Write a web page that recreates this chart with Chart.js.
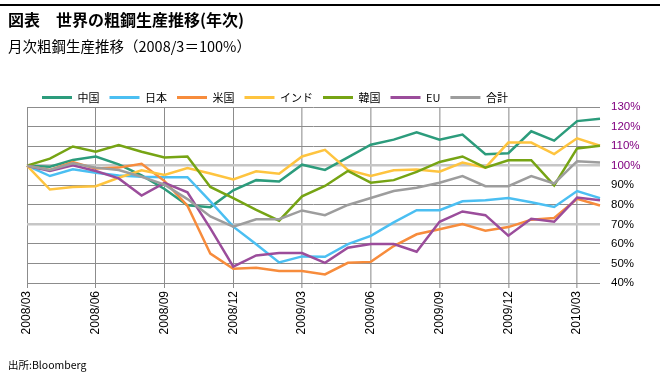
<!DOCTYPE html>
<html>
<head>
<meta charset="utf-8">
<script src="https://cdn.jsdelivr.net/npm/chart.js@4/dist/chart.umd.min.js"></script>
<style>
  html, body { margin: 0; padding: 0; background: #fff; }
  #wrap { position: relative; width: 660px; height: 377px; overflow: hidden; }
  #topline { position: absolute; left: 0; top: 4px; width: 660px; height: 2px; background: #000; }
  #title { position: absolute; left: 8px; top: 9px; font: bold 16px "Noto Sans CJK JP", sans-serif; color: #000; white-space: nowrap; line-height: 20px; }
  #subtitle { position: absolute; left: 8px; top: 36px; font: 14.5px "Noto Sans CJK JP", sans-serif; color: #000; white-space: nowrap; line-height: 20px; }
  #source { position: absolute; left: 8px; top: 358px; font: 10.5px "Noto Sans CJK JP", sans-serif; color: #000; white-space: nowrap; line-height: 14px; }
  canvas { position: absolute; left: 0; top: 0; }
</style>
</head>
<body>
<div id="wrap">
  <div id="topline"></div>
  <canvas id="c" width="660" height="377"></canvas>
  <div id="title">図表　世界の粗鋼生産推移(年次)</div>
  <div id="subtitle">月次粗鋼生産推移（2008/3＝100%）</div>
  <div id="source">出所:Bloomberg</div>
</div>
<script>
const months = ['2008/03','2008/04','2008/05','2008/06','2008/07','2008/08','2008/09','2008/10','2008/11','2008/12',
  '2009/01','2009/02','2009/03','2009/04','2009/05','2009/06','2009/07','2009/08','2009/09','2009/10','2009/11','2009/12',
  '2010/01','2010/02','2010/03','2010/04'];
const seriesNames = ['中国','日本','米国','インド','韓国','EU','合計'];
const china = [100, 99.5, 102.9, 104.7, 100.7, 95, 88.1, 79.8, 78.8, 87.4, 92.6, 91.9, 100.5, 97.8, 104.2, 110.7, 113.3, 117.1, 113.3, 115.9, 105.9, 106.4, 117.6, 112.8, 122.8, 124];
const japan = [100, 94.7, 98.1, 96.4, 95, 94.3, 94.1, 94.1, 81.7, 68.8, 59.8, 50.5, 53.6, 53.4, 59.9, 64.1, 71, 77.2, 77.2, 81.8, 82.3, 83.5, 81.3, 78.9, 87, 83.4];
const us = [100, 97.8, 101.9, 98.5, 99, 101, 92.1, 79.5, 55, 47.3, 47.8, 46.1, 46.1, 44.4, 50.3, 50.8, 58.9, 64.9, 67.5, 70.1, 66.7, 68.6, 72.4, 73.2, 83, 79.6];
const india = [100, 87.8, 89.1, 89.5, 93.8, 97.6, 95.3, 98.8, 96, 92.9, 97.1, 95.9, 104.7, 108.1, 97.8, 94.7, 97.6, 98.1, 96.9, 101.6, 99, 111.8, 111.8, 105.9, 114, 110.2];
const korea = [100, 103.6, 109.8, 107.1, 110.5, 107.1, 104.2, 104.7, 89.1, 83.4, 77.4, 71.9, 84.3, 89.6, 97.3, 91.3, 92.6, 96.8, 101.9, 104.7, 99, 102.8, 102.8, 89.9, 108.8, 110.2];
const eu = [100, 97.3, 100.2, 97.3, 93.5, 84.7, 91.2, 86.4, 67.9, 48.4, 54.1, 55.3, 55.3, 50.3, 58, 59.9, 59.9, 56, 71.3, 76.6, 74.7, 64.2, 72.8, 71.3, 83.7, 82.3];
const total = [100, 97.8, 101.2, 99, 97.8, 94.3, 90.3, 82.9, 74, 68.8, 72.6, 72.6, 77.1, 74.7, 79.9, 83.5, 87, 88.7, 91.3, 94.7, 89.5, 89.5, 94.7, 90.9, 102.3, 101.6];
const yTicks = [40, 50, 60, 70, 80, 90, 100, 110, 120, 130];

const colors = ['#2c9c7c', '#4bbff2', '#f78c3c', '#fec43f', '#76a414', '#9b4d9b', '#9d9d9d'];
const values = [china, japan, us, india, korea, eu, total];

const datasets = seriesNames.map((name, i) => ({
  label: name,
  data: values[i],
  borderColor: colors[i],
  backgroundColor: colors[i],
  borderWidth: 2.5,
  pointRadius: 0,
  tension: 0,
  fill: false,
  order: seriesNames.length - i
}));

const legendShift = {
  id: 'legendShift',
  afterLayout(chart) {
    const lg = chart.legend;
    if (!lg) return;
    lg.top += 6; lg.bottom += 6;
    lg.left += 5; lg.right += 5;
  }
};

new Chart(document.getElementById('c'), {
  type: 'line',
  data: { labels: months, datasets },
  plugins: [legendShift],
  options: {
    responsive: false,
    animation: false,
    layout: { padding: { left: 27, right: 0, top: 76, bottom: 34 } },
    plugins: {
      tooltip: { enabled: false },
      legend: {
        position: 'top',
        align: 'start',
        labels: {
          boxWidth: 30,
          boxHeight: 3,
          padding: 10,
          color: '#000',
          font: { family: '"Noto Sans CJK JP", sans-serif', size: 11 },
          sort: (a, b) => a.datasetIndex - b.datasetIndex,
          generateLabels(chart) {
            const items = Chart.defaults.plugins.legend.labels.generateLabels(chart);
            items.forEach(it => { it.lineWidth = 0; it.fillStyle = it.strokeStyle; });
            return items;
          }
        }
      }
    },
    scales: {
      x: {
        offset: false,
        afterFit(scale) { scale.height = 60; },
        border: { display: false },
        grid: {
          drawOnChartArea: true,
          drawTicks: true,
          tickLength: 5,
          color: ctx => (ctx.index % 3 === 0) ? (ctx.index <= 9 ? '#8c8c8c' : '#b4b4b4') : 'rgba(0,0,0,0)',
          lineWidth: ctx => (ctx.index <= 9 ? 1 : 1.6)
        },
        ticks: {
          autoSkip: false,
          maxRotation: 90,
          minRotation: 90,
          padding: 3,
          color: '#000',
          font: { family: '"Liberation Sans", Arial, sans-serif', size: 12 },
          callback(val, idx) { return idx % 3 === 0 ? months[idx] : ''; }
        }
      },
      y: {
        position: 'right',
        min: 40,
        max: 130,
        afterFit(scale) { scale.width = 60; },
        afterBuildTicks(scale) { scale.ticks = yTicks.map(v => ({ value: v })); },
        border: { display: false },
        grid: {
          drawTicks: false,
          color: ctx => (ctx.tick && (ctx.tick.value === 100 || ctx.tick.value === 70)) ? '#c6c6c6' : '#8c8c8c',
          lineWidth: ctx => (ctx.tick && (ctx.tick.value === 100 || ctx.tick.value === 70)) ? 2.5 : 1
        },
        ticks: {
          padding: 11,
          color: ctx => (ctx.tick && ctx.tick.value >= 100) ? '#800080' : '#000',
          font: { family: '"Liberation Sans", Arial, sans-serif', size: 11.5 },
          callback: v => v + '%'
        }
      }
    }
  }
});
</script>
</body>
</html>
